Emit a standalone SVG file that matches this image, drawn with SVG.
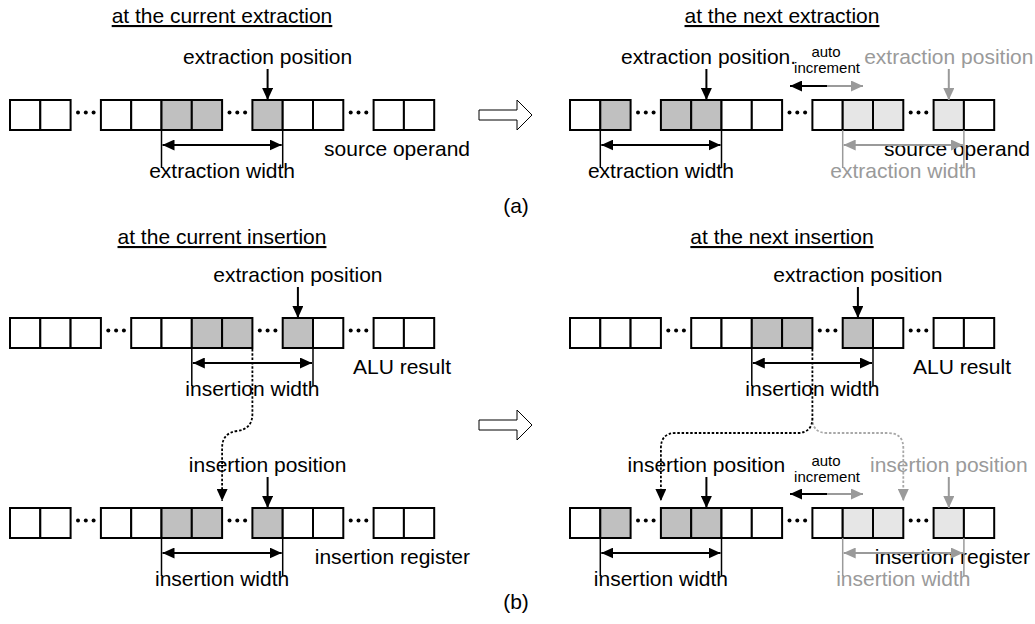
<svg xmlns="http://www.w3.org/2000/svg" width="1035" height="624" viewBox="0 0 1035 624">
  <defs>
    <style>
      text{font-family:"Liberation Sans",Arial,sans-serif;font-size:21px;fill:#000}
      text.g{fill:#9a9a9a}
      text.sm{font-size:15px}
      .ttl{text-decoration:underline}
      .mid{text-anchor:middle}
      .end{text-anchor:end}
      .c{fill:#fff;stroke:#000;stroke-width:2}
      .d{fill:#c0c0c0;stroke:#000;stroke-width:2}
      .l{fill:#e6e6e6;stroke:#000;stroke-width:2}
      .dot{fill:#000}
      .ar{stroke:#000;stroke-width:2;fill:none;marker-end:url(#ah)}
      .arg{stroke:#9a9a9a;stroke-width:2;fill:none;marker-end:url(#ahg)}
      .dim{stroke:#000;stroke-width:2;fill:none;marker-start:url(#ah);marker-end:url(#ah)}
      .dimg{stroke:#9a9a9a;stroke-width:2;fill:none;marker-start:url(#ahg);marker-end:url(#ahg)}
      .tk{stroke:#000;stroke-width:1.5}
      .tkg{stroke:#9a9a9a;stroke-width:1.5}
      .dash{stroke:#000;stroke-width:1.8;stroke-dasharray:2.5 1.8;fill:none;marker-end:url(#ah)}
      .dashg{stroke:#a8a8a8;stroke-width:1.8;stroke-dasharray:2.5 1.8;fill:none;marker-end:url(#ahg)}
      .big{fill:#fff;stroke:#000;stroke-width:1}
    </style>
    <marker id="ah" markerUnits="userSpaceOnUse" viewBox="0 0 12 11" markerWidth="12" markerHeight="11" refX="12" refY="5.5" orient="auto-start-reverse">
      <path d="M0,0L12,5.5L0,11z" fill="#000"/>
    </marker>
    <marker id="ahg" markerUnits="userSpaceOnUse" viewBox="0 0 12 11" markerWidth="12" markerHeight="11" refX="12" refY="5.5" orient="auto-start-reverse">
      <path d="M0,0L12,5.5L0,11z" fill="#9a9a9a"/>
    </marker>
  </defs>

  <rect width="1035" height="624" fill="#fff"/>

  <!-- headings -->
  <text class="mid ttl" x="222" y="23">at the current extraction</text>
  <text class="mid ttl" x="782" y="23">at the next extraction</text>
  <text class="mid ttl" x="222" y="244">at the current insertion</text>
  <text class="mid ttl" x="782" y="244">at the next insertion</text>
  <text class="mid" x="516" y="213">(a)</text>
  <text class="mid" x="516" y="609">(b)</text>

  <!-- transition arrows -->
  <path class="big" d="M479,110H517V100L532,115L517,130V120H479z"/>
  <path class="big" d="M479,420H517V410L532,425L517,440V430H479z"/>

  <!-- source operand, current extraction -->
  <g id="src-current" transform="translate(0,100)">
    <rect class="c" x="10" y="0" width="30.3" height="30"/>
    <rect class="c" x="40.3" y="0" width="30.3" height="30"/>
    <rect class="c" x="100.9" y="0" width="30.3" height="30"/>
    <rect class="c" x="131.2" y="0" width="30.3" height="30"/>
    <rect class="d" x="161.5" y="0" width="30.3" height="30"/>
    <rect class="d" x="191.8" y="0" width="30.3" height="30"/>
    <rect class="d" x="252.4" y="0" width="30.3" height="30"/>
    <rect class="c" x="282.7" y="0" width="30.3" height="30"/>
    <rect class="c" x="313" y="0" width="30.3" height="30"/>
    <rect class="c" x="373.6" y="0" width="30.3" height="30"/>
    <rect class="c" x="403.9" y="0" width="30.3" height="30"/>
    <circle class="dot" cx="78" cy="12.5" r="2"/><circle class="dot" cx="85.8" cy="12.5" r="2"/><circle class="dot" cx="93.6" cy="12.5" r="2"/>
    <circle class="dot" cx="229.5" cy="12.5" r="2"/><circle class="dot" cx="237.3" cy="12.5" r="2"/><circle class="dot" cx="245.1" cy="12.5" r="2"/>
    <circle class="dot" cx="350.7" cy="12.5" r="2"/><circle class="dot" cx="358.5" cy="12.5" r="2"/><circle class="dot" cx="366.3" cy="12.5" r="2"/>
    <text class="end" x="470" y="56">source operand</text>
  </g>

  <!-- source operand, next extraction -->
  <g id="src-next" transform="translate(0,100)">
    <rect class="c" x="570" y="0" width="30.3" height="30"/>
    <rect class="d" x="600.3" y="0" width="30.3" height="30"/>
    <rect class="d" x="660.9" y="0" width="30.3" height="30"/>
    <rect class="d" x="691.2" y="0" width="30.3" height="30"/>
    <rect class="c" x="721.5" y="0" width="30.3" height="30"/>
    <rect class="c" x="751.8" y="0" width="30.3" height="30"/>
    <rect class="c" x="812.4" y="0" width="30.3" height="30"/>
    <rect class="l" x="842.7" y="0" width="30.3" height="30"/>
    <rect class="l" x="873" y="0" width="30.3" height="30"/>
    <rect class="l" x="933.6" y="0" width="30.3" height="30"/>
    <rect class="c" x="963.9" y="0" width="30.3" height="30"/>
    <circle class="dot" cx="638" cy="12.5" r="2"/><circle class="dot" cx="645.8" cy="12.5" r="2"/><circle class="dot" cx="653.6" cy="12.5" r="2"/>
    <circle class="dot" cx="789.5" cy="12.5" r="2"/><circle class="dot" cx="797.3" cy="12.5" r="2"/><circle class="dot" cx="805.1" cy="12.5" r="2"/>
    <circle class="dot" cx="910.7" cy="12.5" r="2"/><circle class="dot" cx="918.5" cy="12.5" r="2"/><circle class="dot" cx="926.3" cy="12.5" r="2"/>
    <text class="end" x="1030" y="56">source operand</text>
  </g>

  <!-- ALU result, current insertion -->
  <g id="alu-current" transform="translate(0,318)">
    <rect class="c" x="10" y="0" width="30.3" height="30"/>
    <rect class="c" x="40.3" y="0" width="30.3" height="30"/>
    <rect class="c" x="70.6" y="0" width="30.3" height="30"/>
    <rect class="c" x="131.2" y="0" width="30.3" height="30"/>
    <rect class="c" x="161.5" y="0" width="30.3" height="30"/>
    <rect class="d" x="191.8" y="0" width="30.3" height="30"/>
    <rect class="d" x="222.1" y="0" width="30.3" height="30"/>
    <rect class="d" x="282.7" y="0" width="30.3" height="30"/>
    <rect class="c" x="313" y="0" width="30.3" height="30"/>
    <rect class="c" x="373.6" y="0" width="30.3" height="30"/>
    <rect class="c" x="403.9" y="0" width="30.3" height="30"/>
    <circle class="dot" cx="108.3" cy="12.5" r="2"/><circle class="dot" cx="116.1" cy="12.5" r="2"/><circle class="dot" cx="123.9" cy="12.5" r="2"/>
    <circle class="dot" cx="259.8" cy="12.5" r="2"/><circle class="dot" cx="267.6" cy="12.5" r="2"/><circle class="dot" cx="275.4" cy="12.5" r="2"/>
    <circle class="dot" cx="350.7" cy="12.5" r="2"/><circle class="dot" cx="358.5" cy="12.5" r="2"/><circle class="dot" cx="366.3" cy="12.5" r="2"/>
    <text x="353" y="56">ALU result</text>
  </g>

  <!-- ALU result, next insertion -->
  <g id="alu-next" transform="translate(0,318)">
    <rect class="c" x="570" y="0" width="30.3" height="30"/>
    <rect class="c" x="600.3" y="0" width="30.3" height="30"/>
    <rect class="c" x="630.6" y="0" width="30.3" height="30"/>
    <rect class="c" x="691.2" y="0" width="30.3" height="30"/>
    <rect class="c" x="721.5" y="0" width="30.3" height="30"/>
    <rect class="d" x="751.8" y="0" width="30.3" height="30"/>
    <rect class="d" x="782.1" y="0" width="30.3" height="30"/>
    <rect class="d" x="842.7" y="0" width="30.3" height="30"/>
    <rect class="c" x="873" y="0" width="30.3" height="30"/>
    <rect class="c" x="933.6" y="0" width="30.3" height="30"/>
    <rect class="c" x="963.9" y="0" width="30.3" height="30"/>
    <circle class="dot" cx="668.3" cy="12.5" r="2"/><circle class="dot" cx="676.1" cy="12.5" r="2"/><circle class="dot" cx="683.9" cy="12.5" r="2"/>
    <circle class="dot" cx="819.8" cy="12.5" r="2"/><circle class="dot" cx="827.6" cy="12.5" r="2"/><circle class="dot" cx="835.4" cy="12.5" r="2"/>
    <circle class="dot" cx="910.7" cy="12.5" r="2"/><circle class="dot" cx="918.5" cy="12.5" r="2"/><circle class="dot" cx="926.3" cy="12.5" r="2"/>
    <text x="913" y="56">ALU result</text>
  </g>

  <!-- insertion register, current insertion -->
  <g id="ins-current" transform="translate(0,508)">
    <rect class="c" x="10" y="0" width="30.3" height="30"/>
    <rect class="c" x="40.3" y="0" width="30.3" height="30"/>
    <rect class="c" x="100.9" y="0" width="30.3" height="30"/>
    <rect class="c" x="131.2" y="0" width="30.3" height="30"/>
    <rect class="d" x="161.5" y="0" width="30.3" height="30"/>
    <rect class="d" x="191.8" y="0" width="30.3" height="30"/>
    <rect class="d" x="252.4" y="0" width="30.3" height="30"/>
    <rect class="c" x="282.7" y="0" width="30.3" height="30"/>
    <rect class="c" x="313" y="0" width="30.3" height="30"/>
    <rect class="c" x="373.6" y="0" width="30.3" height="30"/>
    <rect class="c" x="403.9" y="0" width="30.3" height="30"/>
    <circle class="dot" cx="78" cy="12.5" r="2"/><circle class="dot" cx="85.8" cy="12.5" r="2"/><circle class="dot" cx="93.6" cy="12.5" r="2"/>
    <circle class="dot" cx="229.5" cy="12.5" r="2"/><circle class="dot" cx="237.3" cy="12.5" r="2"/><circle class="dot" cx="245.1" cy="12.5" r="2"/>
    <circle class="dot" cx="350.7" cy="12.5" r="2"/><circle class="dot" cx="358.5" cy="12.5" r="2"/><circle class="dot" cx="366.3" cy="12.5" r="2"/>
    <text class="end" x="470" y="56">insertion register</text>
  </g>

  <!-- insertion register, next insertion -->
  <g id="ins-next" transform="translate(0,508)">
    <rect class="c" x="570" y="0" width="30.3" height="30"/>
    <rect class="d" x="600.3" y="0" width="30.3" height="30"/>
    <rect class="d" x="660.9" y="0" width="30.3" height="30"/>
    <rect class="d" x="691.2" y="0" width="30.3" height="30"/>
    <rect class="c" x="721.5" y="0" width="30.3" height="30"/>
    <rect class="c" x="751.8" y="0" width="30.3" height="30"/>
    <rect class="c" x="812.4" y="0" width="30.3" height="30"/>
    <rect class="l" x="842.7" y="0" width="30.3" height="30"/>
    <rect class="l" x="873" y="0" width="30.3" height="30"/>
    <rect class="l" x="933.6" y="0" width="30.3" height="30"/>
    <rect class="c" x="963.9" y="0" width="30.3" height="30"/>
    <circle class="dot" cx="638" cy="12.5" r="2"/><circle class="dot" cx="645.8" cy="12.5" r="2"/><circle class="dot" cx="653.6" cy="12.5" r="2"/>
    <circle class="dot" cx="789.5" cy="12.5" r="2"/><circle class="dot" cx="797.3" cy="12.5" r="2"/><circle class="dot" cx="805.1" cy="12.5" r="2"/>
    <circle class="dot" cx="910.7" cy="12.5" r="2"/><circle class="dot" cx="918.5" cy="12.5" r="2"/><circle class="dot" cx="926.3" cy="12.5" r="2"/>
    <text class="end" x="1030" y="56">insertion register</text>
  </g>

  <!-- pointer and width labels -->
  <g id="labels">
    <text class="mid" x="267.6" y="64">extraction position</text>
    <text class="mid" x="222.1" y="178">extraction width</text>
    <text x="621" y="64">extraction position.</text>
    <text class="mid" x="660.9" y="178">extraction width</text>
    <text class="g mid" x="948.8" y="64">extraction position</text>
    <text class="g mid" x="903.3" y="178">extraction width</text>
    <text class="sm mid" x="826" y="57">auto</text>
    <text class="sm mid" x="827" y="73">increment</text>

    <text class="mid" x="297.9" y="282">extraction position</text>
    <text class="mid" x="252.4" y="396">insertion width</text>
    <text class="mid" x="857.9" y="282">extraction position</text>
    <text class="mid" x="812.4" y="396">insertion width</text>

    <text class="mid" x="267.6" y="472">insertion position</text>
    <text class="mid" x="222.1" y="586">insertion width</text>
    <text class="mid" x="706.4" y="472">insertion position</text>
    <text class="mid" x="660.9" y="586">insertion width</text>
    <text class="g mid" x="948.8" y="472">insertion position</text>
    <text class="g mid" x="903.3" y="586">insertion width</text>
    <text class="sm mid" x="826" y="466">auto</text>
    <text class="sm mid" x="827" y="482">increment</text>
  </g>

  <!-- connectors: pointers, width dimensions, data flow -->
  <g id="connectors">
    <!-- (a) current -->
    <line class="ar" x1="267.6" y1="69" x2="267.6" y2="100"/>
    <line class="tk" x1="161.5" y1="130" x2="161.5" y2="168"/>
    <line class="tk" x1="282.7" y1="130" x2="282.7" y2="168"/>
    <line class="dim" x1="162.5" y1="145" x2="281.7" y2="145"/>
    <!-- (a) next -->
    <line class="ar" x1="706.4" y1="69" x2="706.4" y2="100"/>
    <line class="arg" x1="948.8" y1="69" x2="948.8" y2="100"/>
    <line class="ar" x1="827" y1="86" x2="790" y2="86"/>
    <line class="arg" x1="827" y1="86" x2="863" y2="86"/>
    <line class="tk" x1="600.3" y1="130" x2="600.3" y2="168"/>
    <line class="tk" x1="721.5" y1="130" x2="721.5" y2="168"/>
    <line class="dim" x1="601.3" y1="145" x2="720.5" y2="145"/>
    <line class="tkg" x1="842.7" y1="130" x2="842.7" y2="168"/>
    <line class="tkg" x1="963.9" y1="130" x2="963.9" y2="168"/>
    <line class="dimg" x1="843.7" y1="145" x2="962.9" y2="145"/>

    <!-- (b) current -->
    <line class="ar" x1="297.9" y1="287" x2="297.9" y2="318"/>
    <line class="tk" x1="191.8" y1="348" x2="191.8" y2="386"/>
    <line class="tk" x1="313" y1="348" x2="313" y2="386"/>
    <line class="dim" x1="192.8" y1="363" x2="312" y2="363"/>
    <path class="dash" d="M252.4,349V414Q252.4,429 237,431Q222.1,433 222.1,448V501"/>
    <line class="ar" x1="267.6" y1="477" x2="267.6" y2="508"/>
    <line class="tk" x1="161.5" y1="538" x2="161.5" y2="576"/>
    <line class="tk" x1="282.7" y1="538" x2="282.7" y2="576"/>
    <line class="dim" x1="162.5" y1="553" x2="281.7" y2="553"/>

    <!-- (b) next -->
    <line class="ar" x1="857.9" y1="287" x2="857.9" y2="318"/>
    <line class="tk" x1="751.8" y1="348" x2="751.8" y2="386"/>
    <line class="tk" x1="873" y1="348" x2="873" y2="386"/>
    <line class="dim" x1="752.8" y1="363" x2="872" y2="363"/>
    <path class="dashg" d="M812.4,418Q812.4,433 827,433H888Q903.3,433 903.3,448V501"/>
    <path class="dash" d="M812.4,349V418Q812.4,433 797,433H676Q660.9,433 660.9,448V501"/>
    <line class="ar" x1="706.4" y1="477" x2="706.4" y2="508"/>
    <line class="arg" x1="948.8" y1="477" x2="948.8" y2="508"/>
    <line class="ar" x1="827" y1="494" x2="790" y2="494"/>
    <line class="arg" x1="827" y1="494" x2="863" y2="494"/>
    <line class="tk" x1="600.3" y1="538" x2="600.3" y2="576"/>
    <line class="tk" x1="721.5" y1="538" x2="721.5" y2="576"/>
    <line class="dim" x1="601.3" y1="553" x2="720.5" y2="553"/>
    <line class="tkg" x1="842.7" y1="538" x2="842.7" y2="576"/>
    <line class="tkg" x1="963.9" y1="538" x2="963.9" y2="576"/>
    <line class="dimg" x1="843.7" y1="553" x2="962.9" y2="553"/>
  </g>
</svg>
